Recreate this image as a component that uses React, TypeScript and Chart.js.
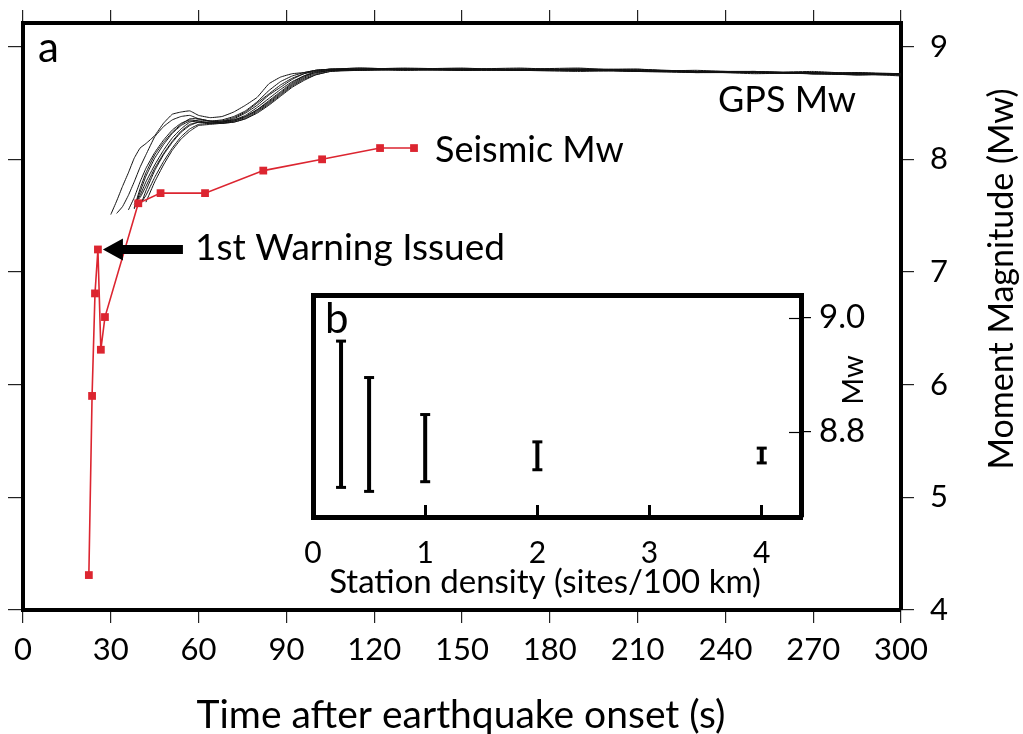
import React, { useEffect, useRef } from "react";
import { Chart, registerables } from "chart.js";

Chart.register(...registerables);

const FONT = 'Lato, "Open Sans", sans-serif';

// ---------- Panel a: seismic magnitude estimates ----------
const seismicTimes = [22.5, 23.6, 24.6, 25.6, 26.6, 28.0, 39.4, 47.0, 62.2, 82.1, 102.2, 122.0, 133.6];
const seismicMw = [4.31, 5.9, 6.81, 7.2, 6.31, 6.6, 7.61, 7.7, 7.7, 7.9, 8.0, 8.1, 8.1];
const warningIndex = 3;

// ---------- Panel a: GPS magnitude estimates (shared time grid) ----------
const gpsTimes = [30, 32, 34, 36, 38, 40, 42, 45, 48, 51, 54, 57, 60, 64, 68, 72, 76, 80, 84, 88, 92, 96, 100, 105, 115, 130, 150, 170, 190, 210, 230, 250, 270, 285, 300];
const gps1 = [7.51, 7.63, 7.76, 7.88, 8.01, 8.1, 8.14, 8.21, 8.32, 8.4, 8.42, 8.43, 8.39, 8.37, 8.38, 8.42, 8.48, 8.55, 8.67, 8.73, 8.76, 8.77, 8.79, 8.8, 8.81, 8.8, 8.79, 8.8, 8.81, 8.78, 8.77, 8.78, 8.76, 8.77, 8.75];
const gps2 = [null, 7.52, 7.58, 7.68, 7.8, 7.93, 8.04, 8.2, 8.29, 8.35, 8.38, 8.39, 8.36, 8.34, 8.35, 8.38, 8.43, 8.51, 8.61, 8.69, 8.74, 8.77, 8.79, 8.8, 8.8, 8.81, 8.8, 8.79, 8.8, 8.8, 8.78, 8.77, 8.77, 8.75, 8.76];
const gps3 = [null, null, null, 7.55, 7.66, 7.8, 7.92, 8.06, 8.17, 8.26, 8.32, 8.35, 8.34, 8.32, 8.33, 8.36, 8.41, 8.48, 8.57, 8.64, 8.71, 8.76, 8.78, 8.79, 8.8, 8.79, 8.8, 8.8, 8.79, 8.79, 8.78, 8.76, 8.77, 8.76, 8.75];
const gps4 = [null, null, null, null, 7.56, 7.71, 7.85, 8.01, 8.13, 8.23, 8.3, 8.34, 8.33, 8.33, 8.34, 8.35, 8.39, 8.46, 8.54, 8.62, 8.69, 8.74, 8.78, 8.8, 8.79, 8.8, 8.81, 8.79, 8.8, 8.78, 8.79, 8.77, 8.76, 8.77, 8.76];
const gps5 = [null, null, null, null, 7.6, 7.68, 7.8, 7.95, 8.08, 8.19, 8.27, 8.33, 8.35, 8.34, 8.32, 8.34, 8.38, 8.44, 8.52, 8.6, 8.68, 8.74, 8.77, 8.79, 8.8, 8.8, 8.79, 8.8, 8.79, 8.8, 8.77, 8.78, 8.76, 8.75, 8.76];
const gps6 = [null, null, null, null, 7.62, 7.66, 7.76, 7.92, 8.05, 8.16, 8.25, 8.31, 8.33, 8.33, 8.33, 8.34, 8.37, 8.43, 8.5, 8.58, 8.66, 8.72, 8.76, 8.79, 8.79, 8.8, 8.8, 8.79, 8.78, 8.79, 8.78, 8.77, 8.77, 8.76, 8.75];
const gps7 = [null, null, null, null, null, 7.58, 7.72, 7.9, 8.04, 8.15, 8.24, 8.3, 8.33, 8.32, 8.33, 8.35, 8.38, 8.44, 8.51, 8.59, 8.67, 8.73, 8.77, 8.79, 8.8, 8.79, 8.8, 8.8, 8.8, 8.78, 8.78, 8.78, 8.76, 8.76, 8.76];
const gps8 = [null, null, null, null, null, 7.6, 7.68, 7.84, 7.98, 8.1, 8.2, 8.27, 8.31, 8.32, 8.32, 8.33, 8.36, 8.42, 8.49, 8.57, 8.65, 8.71, 8.75, 8.78, 8.8, 8.8, 8.79, 8.79, 8.8, 8.79, 8.77, 8.77, 8.76, 8.75, 8.75];
const gps9 = [null, null, null, null, 7.57, 7.74, 7.88, 8.04, 8.15, 8.24, 8.31, 8.36, 8.36, 8.34, 8.34, 8.37, 8.42, 8.5, 8.58, 8.66, 8.72, 8.76, 8.79, 8.8, 8.81, 8.8, 8.8, 8.81, 8.79, 8.79, 8.78, 8.77, 8.78, 8.76, 8.76];
const gps10 = [null, null, null, null, null, null, 7.62, 7.8, 7.95, 8.08, 8.18, 8.25, 8.3, 8.31, 8.32, 8.33, 8.36, 8.41, 8.48, 8.56, 8.64, 8.7, 8.75, 8.78, 8.79, 8.8, 8.8, 8.79, 8.79, 8.78, 8.78, 8.77, 8.76, 8.76, 8.74];
const gpsSeries = [gps1, gps2, gps3, gps4, gps5, gps6, gps7, gps8, gps9, gps10];

const timeTicks = [0, 30, 60, 90, 120, 150, 180, 210, 240, 270, 300];
const mwTicks = [4, 5, 6, 7, 8, 9];

// ---------- Panel b: spread of Mw vs station density ----------
const stationDensity = [0.25, 0.5, 1, 2, 4];
const insetMwLow = [8.702, 8.695, 8.712, 8.733, 8.745];
const insetMwHigh = [8.959, 8.895, 8.83, 8.782, 8.771];
const densityTicks = [0, 1, 2, 3, 4];
const insetMwTicks = [8.8, 9.0];

const tickGrid = { drawOnChartArea: false, drawTicks: true, tickLength: 13, color: "#222", lineWidth: 1.2 };
const frame = { display: true, color: "#000", width: 4 };

// fix an axis box size and drop the label-overhang padding Chart.js would add
const fixBox = (w: number | null, h: number | null) => (s: any) => {
  if (w !== null) s.width = w;
  if (h !== null) s.height = h;
  s.paddingTop = 0;
  s.paddingBottom = 0;
  s.paddingLeft = 0;
  s.paddingRight = 0;
};

const mainDecor = {
  id: "mainDecor",
  afterDraw(chart: any) {
    const ctx = chart.ctx;
    const xs = chart.scales.x;
    const ys = chart.scales.y;
    ctx.save();
    ctx.fillStyle = "#000";
    ctx.textBaseline = "alphabetic";
    ctx.textAlign = "left";
    ctx.font = `42px ${FONT}`;
    ctx.fillText("a", 38, 62);
    ctx.font = `36px ${FONT}`;
    ctx.fillText("GPS Mw", 718, 112);
    ctx.fillText("Seismic Mw", 435, 162);
    ctx.font = `37px ${FONT}`;
    ctx.fillText("1st Warning Issued", 195, 260);

    // arrow pointing at the first warning
    const tx = xs.getPixelForValue(seismicTimes[warningIndex]) + 5;
    const ty = ys.getPixelForValue(seismicMw[warningIndex]);
    ctx.beginPath();
    ctx.moveTo(tx, ty);
    ctx.lineTo(tx + 20, ty - 11);
    ctx.lineTo(tx + 20, ty - 4.5);
    ctx.lineTo(tx + 80, ty - 4.5);
    ctx.lineTo(tx + 80, ty + 4.5);
    ctx.lineTo(tx + 20, ty + 4.5);
    ctx.lineTo(tx + 20, ty + 11);
    ctx.closePath();
    ctx.fill();

    ctx.font = `39px ${FONT}`;
    ctx.textAlign = "center";
    ctx.fillText("Time after earthquake onset (s)", 461, 728);
    ctx.font = `34px ${FONT}`;
    ctx.translate(1013, 279);
    ctx.rotate(-Math.PI / 2);
    ctx.fillText("Moment Magnitude (Mw)", 0, 0);
    ctx.restore();
  },
};

const insetDecor = {
  id: "insetDecor",
  beforeDraw(chart: any) {
    const { ctx, chartArea } = chart;
    ctx.save();
    ctx.fillStyle = "#fff";
    ctx.fillRect(chartArea.left, chartArea.top, chartArea.right - chartArea.left, chartArea.bottom - chartArea.top);
    ctx.restore();
  },
  afterDraw(chart: any) {
    const { ctx, chartArea } = chart;
    const ys = chart.scales.y;
    ctx.save();
    ctx.strokeStyle = "#000";
    ctx.lineWidth = 1.2;
    ys.ticks.forEach((t: any) => {
      const py = Math.round(ys.getPixelForValue(t.value)) + 0.5;
      ctx.beginPath();
      ctx.moveTo(chartArea.right - 12, py);
      ctx.lineTo(chartArea.right, py);
      ctx.stroke();
    });
    ctx.fillStyle = "#000";
    ctx.textBaseline = "alphabetic";
    ctx.textAlign = "left";
    ctx.font = `42px ${FONT}`;
    ctx.fillText("b", 35, 53);
    ctx.font = `33px ${FONT}`;
    ctx.textAlign = "center";
    ctx.fillText("Station density (sites/100 km)", 255, 313);
    ctx.font = `29px ${FONT}`;
    ctx.translate(573, 100);
    ctx.rotate(-Math.PI / 2);
    ctx.fillText("Mw", 0, 0);
    ctx.restore();
  },
};

export default function App() {
  const mainRef = useRef<HTMLCanvasElement>(null);
  const insetRef = useRef<HTMLCanvasElement>(null);

  useEffect(() => {
    document.body.style.margin = "0";
    const setTicks = (arr: number[]) => (s: any) => {
      s.ticks = arr.map((v) => ({ value: v }));
    };

    const gpsDatasets = gpsSeries.map((vals) => ({
      data: vals.map((v, i) => ({ x: gpsTimes[i], y: v })),
      borderColor: "#111",
      borderWidth: 1,
      pointRadius: 0,
      tension: 0.1,
      spanGaps: false,
      xAxisID: "x",
      yAxisID: "y",
    }));

    const main = new Chart(mainRef.current as HTMLCanvasElement, {
      type: "line",
      data: {
        datasets: [
          {
            data: seismicTimes.map((t, i) => ({ x: t, y: seismicMw[i] })),
            borderColor: "#dc2530",
            backgroundColor: "#dc2530",
            borderWidth: 1.6,
            pointStyle: "rect",
            pointRadius: 5.5,
            pointBorderWidth: 0,
            xAxisID: "x",
            yAxisID: "y",
          },
          ...gpsDatasets,
        ] as any,
      },
      options: {
        animation: false,
        responsive: false,
        layout: { padding: 0 },
        plugins: { legend: { display: false }, tooltip: { enabled: false } },
        scales: {
          x: {
            type: "linear",
            position: "bottom",
            min: 0,
            max: 300,
            afterBuildTicks: setTicks(timeTicks),
            ticks: { font: { family: FONT, size: 31 }, color: "#000", padding: 8, maxRotation: 0, autoSkip: false, callback: (v: any) => String(v) },
            grid: tickGrid,
            border: frame,
            afterFit: fixBox(null, 124),
          },
          xTop: {
            type: "linear",
            position: "top",
            min: 0,
            max: 300,
            afterBuildTicks: setTicks(timeTicks),
            ticks: { display: false },
            grid: tickGrid,
            border: frame,
            afterFit: fixBox(null, 23),
          },
          yLeft: {
            type: "linear",
            position: "left",
            min: 4,
            max: 9.21,
            afterBuildTicks: setTicks(mwTicks),
            ticks: { display: false },
            grid: { ...tickGrid, tickLength: 15 },
            border: frame,
            afterFit: fixBox(23, null),
          },
          y: {
            type: "linear",
            position: "right",
            min: 4,
            max: 9.21,
            afterBuildTicks: setTicks(mwTicks),
            ticks: { font: { family: FONT, size: 31 }, color: "#000", padding: 16, callback: (v: any) => String(v) },
            grid: tickGrid,
            border: frame,
            afterFit: fixBox(122, null),
          },
        } as any,
      },
      plugins: [mainDecor],
    });

    const errData: any[] = [];
    stationDensity.forEach((d, i) => {
      errData.push({ x: d, y: insetMwLow[i] }, { x: d, y: insetMwHigh[i] }, { x: d, y: null });
    });

    const inset = new Chart(insetRef.current as HTMLCanvasElement, {
      type: "line",
      data: {
        datasets: [
          {
            data: errData,
            borderColor: "#000",
            borderWidth: 4,
            borderCapStyle: "butt",
            pointStyle: "line",
            pointRadius: 5,
            pointBorderWidth: 3,
            pointBorderColor: "#000",
            spanGaps: false,
          },
        ] as any,
      },
      options: {
        animation: false,
        responsive: false,
        layout: { padding: 0 },
        plugins: { legend: { display: false }, tooltip: { enabled: false } },
        scales: {
          x: {
            type: "linear",
            position: "bottom",
            min: 0,
            max: 4.35,
            afterBuildTicks: setTicks(densityTicks),
            ticks: { font: { family: FONT, size: 30 }, color: "#000", padding: 30, maxRotation: 0, autoSkip: false, callback: (v: any) => String(v) },
            grid: { drawOnChartArea: false, drawTicks: true, tickLength: -12, color: "#000", lineWidth: 3 },
            border: { display: true, color: "#000", width: 5 },
            afterFit: fixBox(null, 93),
          },
          xTop: {
            type: "linear",
            position: "top",
            min: 0,
            max: 4.35,
            ticks: { display: false },
            grid: { display: false },
            border: { display: true, color: "#000", width: 5 },
            afterFit: fixBox(null, 15),
          },
          yLeft: {
            type: "linear",
            position: "left",
            min: 8.65,
            max: 9.04,
            ticks: { display: false },
            grid: { display: false },
            border: { display: true, color: "#000", width: 5 },
            afterFit: fixBox(23, null),
          },
          y: {
            type: "linear",
            position: "right",
            min: 8.65,
            max: 9.04,
            afterBuildTicks: setTicks(insetMwTicks),
            ticks: { font: { family: FONT, size: 33 }, color: "#000", padding: 8, callback: (v: any) => Number(v).toFixed(1) },
            grid: { drawOnChartArea: false, drawTicks: true, tickLength: 10, color: "#000", lineWidth: 1.2 },
            border: { display: true, color: "#000", width: 5 },
            afterFit: fixBox(99, null),
          },
        } as any,
      },
      plugins: [insetDecor],
    });

    return () => {
      main.destroy();
      inset.destroy();
    };
  }, []);

  return (
    <div style={{ position: "relative", width: 1023, height: 734, background: "#fff" }}>
      <canvas ref={mainRef} width={1023} height={734} style={{ position: "absolute", left: 0, top: 0, width: 1023, height: 734 }} />
      <canvas ref={insetRef} width={610} height={330} style={{ position: "absolute", left: 290, top: 280, width: 610, height: 330 }} />
    </div>
  );
}
